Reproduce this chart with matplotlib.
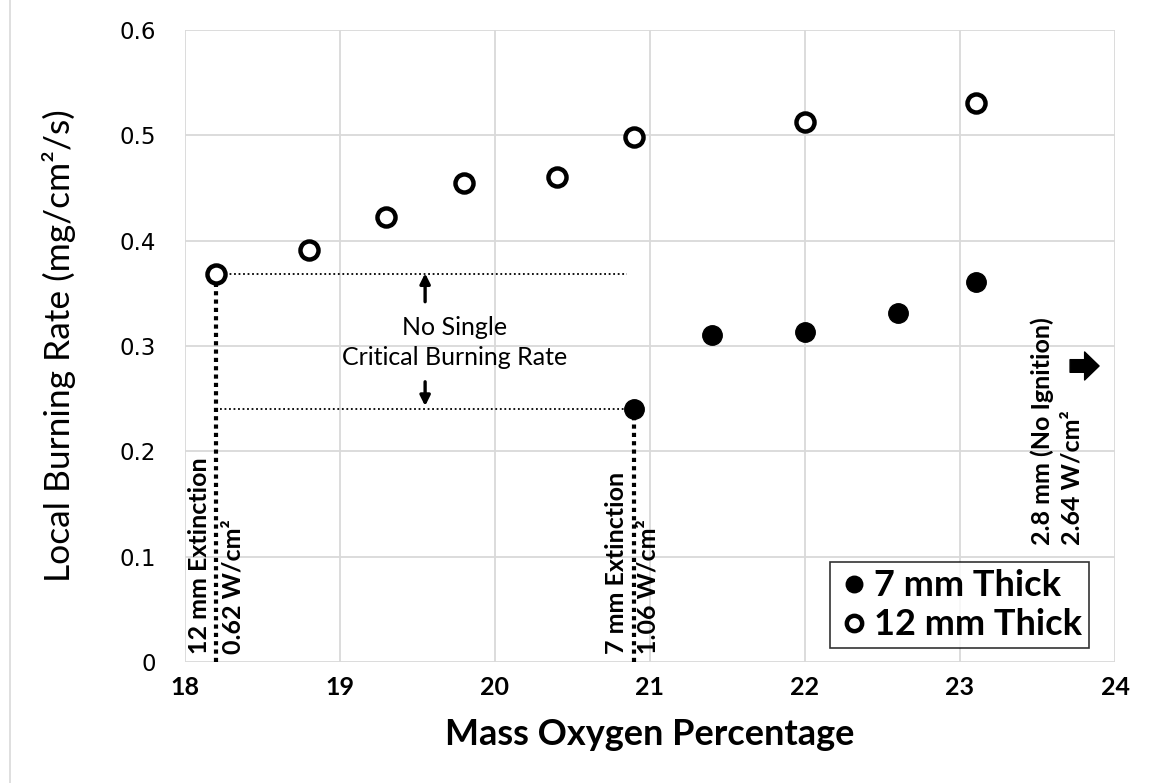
import matplotlib
matplotlib.use("Agg")
import matplotlib.pyplot as plt

plt.rcParams['font.family'] = ['Lato', 'DejaVu Sans']

# 12 mm thick samples (open circles)
o2_12mm = [18.2, 18.8, 19.3, 19.8, 20.4, 20.9, 22.0, 23.1]
rate_12mm = [0.368, 0.391, 0.422, 0.455, 0.460, 0.498, 0.513, 0.531]

# 7 mm thick samples (filled circles)
o2_7mm = [20.9, 21.4, 22.0, 22.6, 23.1]
rate_7mm = [0.240, 0.310, 0.313, 0.331, 0.361]

xticks = [18, 19, 20, 21, 22, 23, 24]
yticks = [0, 0.1, 0.2, 0.3, 0.4, 0.5, 0.6]
ytick_labels = ['0', '0.1', '0.2', '0.3', '0.4', '0.5', '0.6']

fig = plt.figure(figsize=(11.55, 7.83), dpi=100)
ax = fig.add_axes([0.160, 0.1546, 0.8054, 0.8071])

ax.set_xlim(18, 24)
ax.set_ylim(0, 0.6)
ax.set_xticks(xticks)
ax.set_yticks(yticks)
ax.set_yticklabels(ytick_labels, fontfamily='DejaVu Sans')
ax.grid(True, color='#d9d9d9', lw=1.3)
ax.set_axisbelow(True)
for s in ax.spines.values():
    s.set_visible(False)
ax.tick_params(length=0)
ax.tick_params(axis='x', labelsize=18, pad=10)
ax.tick_params(axis='y', labelsize=16.5, pad=21)
for lab in ax.get_xticklabels():
    lab.set_fontweight('bold')

ax.set_xlabel('Mass Oxygen Percentage', fontsize=26, fontweight='bold')
ax.set_ylabel('Local Burning Rate (mg/cm²/s)', fontsize=25.5)
ax.xaxis.set_label_coords(0.5, -0.088)
ax.yaxis.set_label_coords(-0.117, 0.5)

# extinction guide lines
x12, y12 = o2_12mm[0], rate_12mm[0]
x7, y7 = o2_7mm[0], rate_7mm[0]
ax.plot([x12, x7 - 0.05], [y12, y12], color='black', lw=1.3, ls=(0, (1, 1.5)), zorder=2)
ax.plot([x12 + 0.03, x7 - 0.05], [y7, y7], color='black', lw=1.3, ls=(0, (1, 1.5)), zorder=2)
ax.plot([x12, x12], [0, y12], color='black', lw=3, ls=(0, (1, 1)), zorder=2)
ax.plot([x7, x7], [0, y7], color='black', lw=3, ls=(0, (1, 1)), zorder=2)

# data
ax.plot(o2_7mm, rate_7mm, 'o', ms=14, color='black', mec='black', label='7 mm Thick', zorder=4)
ax.plot(o2_12mm, rate_12mm, 'o', ms=13, mfc='white', mec='black', mew=3.2,
        label='12 mm Thick', zorder=4)

# arrows toward the two critical rates
ax.annotate('', xy=(19.55, y12 + 0.001), xytext=(19.55, 0.342),
            arrowprops=dict(arrowstyle='-|>', color='black', lw=2.4, mutation_scale=15,
                            shrinkA=0, shrinkB=0))
ax.annotate('', xy=(19.55, y7 + 0.003), xytext=(19.55, 0.266),
            arrowprops=dict(arrowstyle='-|>', color='black', lw=2.4, mutation_scale=15,
                            shrinkA=0, shrinkB=0))
ax.text(19.74, 0.303, 'No Single\nCritical Burning Rate', ha='center', va='center',
        fontsize=18, linespacing=1.35)

# rotated annotations
rot = dict(rotation=90, ha='center', va='bottom', fontsize=18, fontweight='bold')
ax.text(18.097, 0.008, '12 mm Extinction', **rot)
ax.text(18.31, 0.008, '0.62 W/cm²', **rot)
ax.text(20.787, 0.008, '7 mm Extinction', **rot)
ax.text(20.987, 0.008, '1.06 W/cm²', **rot)
ax.text(23.53, 0.111, '2.8 mm (No Ignition)', **rot)
ax.text(23.72, 0.111, '2.64 W/cm²', **rot)

# block arrow for no ignition
ax.annotate('', xy=(23.897, 0.281), xytext=(23.71, 0.281),
            arrowprops=dict(arrowstyle='simple,head_width=1.55,head_length=0.8,tail_width=0.7',
                            color='black', mutation_scale=13, shrinkA=0, shrinkB=0))

leg = ax.legend(loc='lower right', bbox_to_anchor=(0.972, 0.022),
                prop={'weight': 'bold', 'size': 26}, frameon=True, fancybox=False,
                markerscale=0.85, handletextpad=0.1, handlelength=0.9, borderpad=0.2,
                labelspacing=0.15, borderaxespad=0, handleheight=0.6)
leg.get_frame().set_edgecolor('black')
leg.get_frame().set_linewidth(1.2)

# thin chart border at left of the figure
fig.add_artist(plt.Line2D([0.009, 0.009], [0, 1], color='#d9d9d9', lw=1.2, transform=fig.transFigure))

fig.savefig('out.png', dpi=100, facecolor='white')
